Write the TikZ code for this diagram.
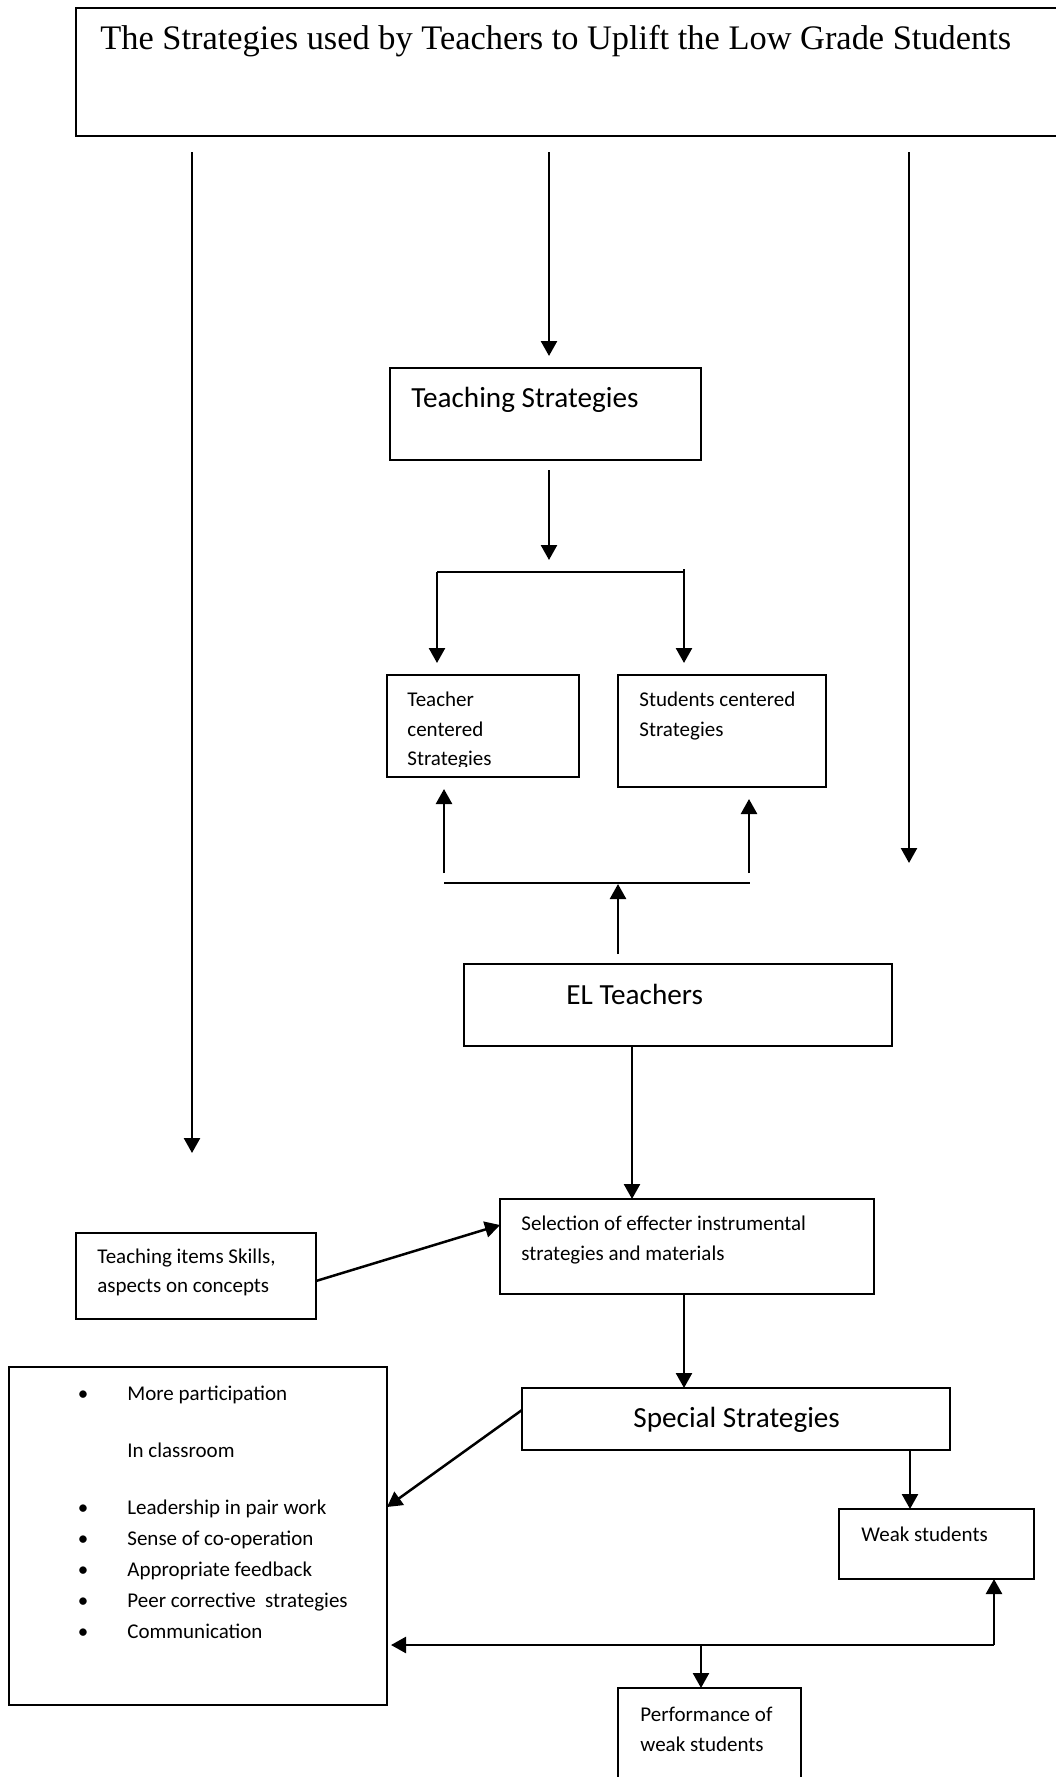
\documentclass[tikz,border=0pt]{standalone}
\usepackage{fontspec}
\setmainfont{Carlito}
\newfontfamily\titlefont{Liberation Serif}
\usetikzlibrary{arrows.meta}
\begin{document}
\begin{tikzpicture}[x=0.5pt,y=-0.5pt,
  box/.style={draw,line width=0.95pt,anchor=north west,inner sep=0pt,outer sep=0pt},
  arr/.style={line width=1.25pt,-{Triangle[length=7.5pt,width=8pt]}},
  ln/.style={line width=0.8pt},
  txt/.style={anchor=base west,inner sep=0pt,font=\fontsize{10.5pt}{15pt}\selectfont},
  big/.style={anchor=base west,inner sep=0pt,font=\fontsize{14.6pt}{17pt}\selectfont},
  bul/.style={anchor=base,inner sep=0pt,font=\fontsize{10.5pt}{15pt}\selectfont},
]
\useasboundingbox (0,0) rectangle (1055,1777);

% boxes
\node[box,minimum width=492pt,minimum height=64pt] (title) at (76,8) {};
\node[box,minimum width=155.5pt,minimum height=46pt] (ts) at (390,368) {};
\node[box,minimum width=96pt,minimum height=51pt] (tc) at (387,675) {};
\node[box,minimum width=104pt,minimum height=56pt] (sc) at (618,675) {};
\node[box,minimum width=214pt,minimum height=41pt] (el) at (464,964) {};
\node[box,minimum width=187pt,minimum height=47.5pt] (sel) at (500,1199) {};
\node[box,minimum width=120pt,minimum height=43pt] (ti) at (76,1233) {};
\node[box,minimum width=214pt,minimum height=31pt] (sp) at (522,1388) {};
\node[box,minimum width=189pt,minimum height=169pt] (list) at (9,1367) {};
\node[box,minimum width=97.5pt,minimum height=35pt] (weak) at (839,1509) {};
\node[box,minimum width=91.5pt,minimum height=60pt] (perf) at (618,1688) {};

% texts
\node[anchor=base west,inner sep=0pt,font=\titlefont\fontsize{17.2pt}{20pt}\selectfont] (titletxt) at (100,50) {The Strategies used by Teachers to Uplift the Low Grade Students};
\node[big] (tstxt) at (411,407) {Teaching Strategies};
\begin{scope}
\clip (387,675) rectangle (579,766);
\node[txt] (tc1) at (407,706) {Teacher};
\node[txt] (tc2) at (407,736) {centered};
\node[txt] (tc3) at (407,765) {Strategies};
\end{scope}
\node[txt] (sc1) at (639,706) {Students centered};
\node[txt] (sc2) at (639,736) {Strategies};
\node[big] (eltxt) at (566,1004) {EL Teachers};
\node[txt] (sel1) at (521,1230) {Selection of effecter instrumental};
\node[txt] (sel2) at (521,1260) {strategies and materials};
\node[txt] (ti1) at (97,1263) {Teaching items Skills,};
\node[txt] (ti2) at (97,1292) {aspects on concepts};
\node[big] (sptxt) at (633,1427) {Special Strategies};
\node[txt] (wk1) at (861,1541) {Weak students};
\node[txt] (pf1) at (640,1721) {Performance of};
\node[txt] (pf2) at (640,1751) {weak students};

\node[bul] (bu1) at (83,1400) {•};
\node[txt] (li1) at (127,1400) {More participation};
\node[txt] (li2) at (127,1457) {In classroom};
\node[bul] (bu3) at (83,1514) {•};
\node[txt] (li3) at (127,1514) {Leadership in pair work};
\node[bul] (bu4) at (83,1545) {•};
\node[txt] (li4) at (127,1545) {Sense of co-operation};
\node[bul] (bu5) at (83,1576) {•};
\node[txt] (li5) at (127,1576) {Appropriate feedback};
\node[bul] (bu6) at (83,1607) {•};
\node[txt] (li6) at (127,1607) {Peer corrective\ \ strategies};
\node[bul] (bu7) at (83,1638) {•};
\node[txt] (li7) at (127,1638) {Communication};

% free-end coordinates
\coordinate (tL) at (192,152); \coordinate (tLe) at (192,1153);
\coordinate (tM) at (549,152); \coordinate (tMe) at (549,356);
\coordinate (tR) at (909,152); \coordinate (tRe) at (909,863);
\coordinate (b1) at (549,470); \coordinate (b1e) at (549,560);
\coordinate (brL) at (437,572); \coordinate (brR) at (684,572);
\coordinate (brRt) at (684,569);
\coordinate (brLe) at (437,663); \coordinate (brRe) at (684,663);
\coordinate (hL) at (444,883); \coordinate (hR) at (750,883);
\coordinate (uL) at (444,873); \coordinate (uLe) at (444,789);
\coordinate (uR) at (749,873); \coordinate (uRe) at (749,799);
\coordinate (eU) at (618,954); \coordinate (eUe) at (618,884);
\coordinate (c632) at (632,0);
\coordinate (c684) at (684,0);
\coordinate (c910) at (910,0);
\coordinate (y1225) at (0,1225);
\coordinate (y1281) at (0,1281);
\coordinate (y1410) at (0,1410);
\coordinate (y1507) at (0,1507);
\coordinate (jL) at (523,1645); \coordinate (jR) at (994,1645);
\coordinate (jM) at (701,1645);

% connectors
\draw[arr] (tL) -- (tLe);
\draw[arr] (tM) -- (tMe);
\draw[arr] (tR) -- (tRe);
\draw[arr] (b1) -- (b1e);
\draw[ln] (brL) -- (brR);
\draw[arr] (brL) -- (brLe);
\draw[arr] (brRt) -- (brRe);
\draw[ln] (hL) -- (hR);
\draw[arr] (uL) -- (uLe);
\draw[arr] (uR) -- (uRe);
\draw[arr] (eU) -- (eUe);
\draw[arr] (el.south -| c632) -- (sel.north -| c632);
\draw[arr] (ti.east |- y1281) -- (sel.west |- y1225);
\draw[arr] (sel.south -| c684) -- (sp.north -| c684);
\draw[arr] (sp.west |- y1410) -- (list.east |- y1507);
\draw[arr] (sp.south -| c910) -- (weak.north -| c910);
\draw[ln] (jL) -- (jR);
\draw[arr,shorten >=2pt] (jL) -- (list.east |- jL);
\draw[arr] (jR) -- (weak.south -| jR);
\draw[arr] (jM) -- (perf.north -| jM);
\end{tikzpicture}
\end{document}
